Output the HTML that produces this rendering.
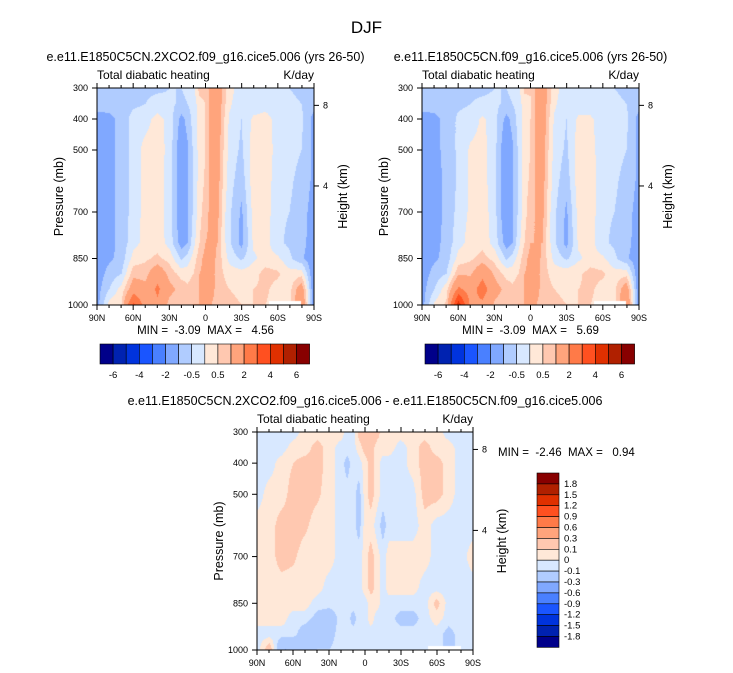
<!DOCTYPE html>
<html><head><meta charset="utf-8">
<style>
body{margin:0;background:#fff;}
#root{position:relative;width:733px;height:673px;overflow:hidden;font-family:"Liberation Sans",sans-serif;color:#000;}
.t{position:absolute;white-space:nowrap;}
canvas{position:absolute;}
svg{position:absolute;left:0;top:0;}
svg text{white-space:pre;}
</style></head>
<body>
<div id="root">
<div class="t" style="left:0;width:733px;text-align:center;top:18px;font-size:17px;">DJF</div>
<canvas id="cA" width="217" height="217" style="left:97px;top:88px"></canvas>
<canvas id="cB" width="217" height="217" style="left:422px;top:88px"></canvas>
<canvas id="cC" width="216" height="218" style="left:257px;top:432px"></canvas>
<svg id="ov" width="733" height="673"></svg>
</div>
<script>
const lats=[90,80,70,60,50,40,30,20,15,10,5,0,-5,-10,-15,-20,-30,-40,-50,-60,-70,-80,-90];
const levs=[300,350,400,500,600,700,800,850,900,950,1000];
const fieldA=[
[-0.7,-0.7,-1.3,-1.3,-1.3,-1.3,-1.3,-1.3,-1.3,-1.2,-1.2],
[-0.7,-0.7,-1.2,-1.2,-1.2,-1.2,-1.2,-1.1,-0.8,-0.5,0.2],
[-0.7,-0.7,-0.8,-0.8,-0.8,-0.8,-0.8,-0.8,-0.5,0.2,0.5],
[-0.7,-0.6,-0.3,-0.3,-0.3,-0.3,-0.2,0.2,0.8,1.5,3.2],
[-0.6,-0.5,-0.2,0.2,0.2,0.2,0.2,0.4,0.8,1.2,1.5],
[-0.6,-0.3,0.2,0.3,0.3,0.3,0.3,0.6,1.6,2.2,1.8],
[-0.5,-0.4,-0.2,-0.2,-0.3,-0.3,-0.2,0.3,0.8,1.2,0.8],
[-0.5,-0.6,-1.2,-1.5,-1.5,-1.5,-1.3,-0.6,0.3,0.8,0.6],
[-0.4,-0.5,-0.8,-1.1,-1.1,-1.1,-1.0,-0.3,0.3,0.6,0.5],
[-0.2,-0.3,-0.3,-0.4,-0.4,-0.4,-0.2,0.2,0.5,0.8,1.0],
[0.7,0.3,0.2,0.2,0.2,0.3,0.5,0.8,1.0,1.0,1.0],
[0.7,0.5,0.5,0.5,0.6,0.8,1.0,1.2,1.2,1.2,1.2],
[1.3,1.3,1.3,1.3,1.2,1.2,1.1,1.2,1.2,1.2,1.0],
[1.5,1.6,1.5,1.4,1.3,1.2,1.0,0.9,0.8,0.8,0.8],
[0.8,0.7,0.6,0.5,0.4,0.2,0.2,0.3,0.5,0.6,0.6],
[0.2,0.1,-0.1,-0.2,-0.3,-0.4,-0.4,-0.2,0.3,0.5,0.6],
[-0.3,-0.4,-0.5,-0.6,-0.8,-1.1,-1.2,-0.6,0.2,0.4,0.5],
[-0.4,-0.3,0.1,0.3,0.3,0.2,0.1,-0.1,0.3,0.5,0.5],
[-0.4,-0.2,0.2,0.3,0.3,0.3,0.2,0.2,0.7,0.6,0.5],
[-0.4,-0.3,-0.2,-0.2,-0.3,-0.4,-0.4,0.1,0.6,0.3,0.3],
[-0.5,-0.4,-0.3,-0.3,-0.4,-0.5,-0.6,-0.4,0.2,0.3,0.3],
[-0.6,-0.5,-0.4,-0.5,-0.7,-0.8,-0.8,-0.9,0.3,1.5,2.0],
[-0.7,-0.8,-1.2,-1.1,-1.1,-1.2,-1.3,-1.4,-1.5,-1.5,-1.5]];
const fieldB=[
[-0.7,-0.7,-1.3,-1.3,-1.3,-1.3,-1.3,-1.3,-1.3,-1.2,-1.2],
[-0.7,-0.7,-1.2,-1.2,-1.2,-1.2,-1.2,-1.1,-0.8,-0.5,0.1],
[-0.7,-0.7,-0.8,-0.8,-0.9,-0.9,-0.8,-0.8,-0.5,0.3,0.6],
[-0.7,-0.6,-0.4,-0.4,-0.4,-0.3,-0.2,0.2,0.9,2.2,4.5],
[-0.6,-0.5,-0.3,0.1,0.1,0.1,0.2,0.4,0.9,1.5,1.8],
[-0.6,-0.4,0.1,0.2,0.2,0.3,0.3,0.7,1.7,2.5,1.8],
[-0.5,-0.4,-0.3,-0.3,-0.3,-0.3,-0.2,0.3,0.9,1.3,0.9],
[-0.5,-0.6,-1.2,-1.6,-1.7,-1.6,-1.3,-0.6,0.3,0.8,0.6],
[-0.4,-0.5,-0.8,-1.1,-1.1,-1.1,-1.0,-0.3,0.3,0.6,0.5],
[-0.2,-0.3,-0.3,-0.4,-0.4,-0.4,-0.2,0.2,0.5,0.8,1.0],
[0.6,0.3,0.2,0.3,0.3,0.3,0.5,0.8,1.0,1.0,1.0],
[0.6,0.4,0.5,0.5,0.6,0.8,1.0,1.2,1.2,1.2,1.2],
[1.1,1.2,1.2,1.2,1.2,1.1,1.0,1.2,1.2,1.2,1.0],
[1.4,1.6,1.5,1.4,1.3,1.2,1.0,0.9,0.8,0.8,0.8],
[0.8,0.7,0.6,0.5,0.4,0.2,0.2,0.3,0.5,0.6,0.6],
[0.2,0.1,-0.1,-0.2,-0.3,-0.4,-0.4,-0.2,0.3,0.5,0.6],
[-0.3,-0.4,-0.5,-0.6,-0.8,-1.1,-1.2,-0.6,0.3,0.4,0.5],
[-0.4,-0.3,0.1,0.3,0.3,0.2,0.1,-0.1,0.4,0.5,0.5],
[-0.4,-0.3,0.1,0.2,0.3,0.3,0.2,0.2,0.7,0.6,0.5],
[-0.4,-0.3,-0.3,-0.3,-0.3,-0.4,-0.4,0.1,0.6,0.3,0.3],
[-0.5,-0.4,-0.3,-0.3,-0.4,-0.5,-0.6,-0.4,0.2,0.4,0.3],
[-0.6,-0.5,-0.4,-0.5,-0.7,-0.8,-0.8,-0.9,0.3,1.5,2.0],
[-0.7,-0.8,-1.2,-1.1,-1.1,-1.2,-1.3,-1.4,-1.5,-1.5,-1.5]];
const fieldC=[
[-0.05,-0.05,-0.05,-0.05,0.05,0.05,0.05,0.05,0.05,-0.05,-0.05],
[-0.05,-0.05,-0.05,0.05,0.05,0.05,0.05,0.05,0.05,-0.05,0.2],
[-0.05,-0.05,0.05,0.05,0.15,0.15,0.05,0.05,0.05,-0.05,-0.3],
[-0.05,0.05,0.1,0.15,0.15,0.12,0.05,0.05,-0.05,-0.05,-0.3],
[0.05,0.05,0.15,0.15,0.12,0.05,0.05,0.05,-0.05,-0.2,-0.15],
[0.05,0.15,0.15,0.12,0.05,0.05,0.05,-0.05,-0.15,-0.2,-0.1],
[0.05,0.05,0.05,0.05,0.05,0.05,-0.05,-0.05,-0.2,-0.15,-0.1],
[0.05,-0.05,-0.05,-0.05,-0.05,-0.05,-0.05,-0.05,-0.05,-0.05,-0.05],
[-0.05,-0.05,-0.15,-0.05,-0.05,-0.05,-0.05,-0.05,-0.05,-0.05,-0.05],
[-0.05,-0.05,-0.05,-0.05,-0.05,-0.05,-0.05,-0.05,-0.15,-0.05,-0.05],
[0.15,0.05,-0.05,-0.15,-0.15,-0.05,-0.05,-0.05,-0.05,-0.05,-0.05],
[0.15,0.15,0.05,0.05,0.05,0.05,0.05,-0.05,-0.05,-0.05,-0.05],
[0.3,0.15,0.15,0.15,0.05,0.15,0.15,0.05,0.05,-0.05,-0.05],
[0.15,0.05,0.05,0.05,-0.05,0.05,0.05,0.05,-0.05,-0.05,-0.05],
[0.05,0.05,-0.05,-0.05,-0.15,-0.05,-0.05,-0.05,-0.05,-0.05,-0.05],
[0.05,0.05,-0.05,-0.05,-0.05,0.05,0.05,-0.05,-0.05,-0.05,-0.05],
[0.05,-0.05,-0.05,-0.05,-0.05,0.05,0.05,-0.05,-0.15,-0.05,-0.05],
[0.05,0.05,0.05,-0.05,-0.05,0.05,0.05,-0.05,-0.15,-0.05,-0.05],
[0.05,0.15,0.15,0.15,0.05,0.05,-0.05,-0.05,-0.05,-0.05,-0.05],
[0.05,0.05,0.15,0.15,-0.05,-0.05,-0.05,0.15,0.05,-0.05,-0.05],
[-0.05,0.05,0.05,0.05,-0.05,-0.05,-0.05,-0.05,-0.05,-0.15,-0.15],
[-0.05,-0.05,-0.05,-0.05,-0.05,-0.05,-0.05,-0.05,-0.05,-0.05,-0.05],
[-0.05,-0.05,-0.05,-0.05,-0.05,0.05,-0.05,-0.05,-0.05,-0.05,-0.05]];
const colors=["#00008a","#0022b0","#0033dd","#1a55ff","#4a80ff","#80a8ff","#b0ccff","#d8e8ff","#ffe8d8","#ffc8b0","#ffa47c","#ff7a48","#ff5020","#e03000","#b02000","#880000"];
const levelsTop=[-6,-5,-4,-3,-2,-1,-0.5,0,0.5,1,2,3,4,5,6];
const levelsDiff=[-1.8,-1.5,-1.2,-0.9,-0.6,-0.3,-0.1,0,0.1,0.3,0.6,0.9,1.2,1.5,1.8];
const topTickLabels=["-6","-4","-2","-0.5","0.5","2","4","6"];
const topTickIdx=[0,2,4,6,8,10,12,14];
const latTicks=[90,60,30,0,-30,-60,-90];
const latTickLabels=["90N","60N","30N","0","30S","60S","90S"];
const presTicks=[300,400,500,700,850,1000];
const heightTicks=[[8,356],[4,616]];

function sample(field,lat,p){
  let i=0;while(i<lats.length-2&&lat<lats[i+1])i++;
  let fi=(lats[i]-lat)/(lats[i]-lats[i+1]);fi=Math.max(0,Math.min(1,fi));
  let j=0;while(j<levs.length-2&&p>levs[j+1])j++;
  let fj=(p-levs[j])/(levs[j+1]-levs[j]);fj=Math.max(0,Math.min(1,fj));
  const a=field[i][j],b=field[i+1][j],c=field[i][j+1],d=field[i+1][j+1];
  return a*(1-fi)*(1-fj)+b*fi*(1-fj)+c*(1-fi)*fj+d*fi*fj;
}
function hex(h){return [parseInt(h.slice(1,3),16),parseInt(h.slice(3,5),16),parseInt(h.slice(5,7),16)];}
const rgb=colors.map(hex);
function draw(id,field,levels){
  const cv=document.getElementById(id),ctx=cv.getContext('2d');
  const W=cv.width,H=cv.height,img=ctx.createImageData(W,H);
  for(let y=0;y<H;y++)for(let x=0;x<W;x++){
    const lat=90-180*x/(W-1),p=300+700*y/(H-1);
    let o=(y*W+x)*4;
    if(p>988&&lat<-53&&lat>-80){img.data[o]=img.data[o+1]=img.data[o+2]=img.data[o+3]=255;continue;}
    const v=sample(field,lat,p);
    let k=0;while(k<levels.length&&v>=levels[k])k++;
    const c=rgb[k];img.data[o]=c[0];img.data[o+1]=c[1];img.data[o+2]=c[2];img.data[o+3]=255;
  }
  ctx.putImageData(img,0,0);
}
draw('cA',fieldA,levelsTop);draw('cB',fieldB,levelsTop);draw('cC',fieldC,levelsDiff);

const svg=document.getElementById('ov');const NS="http://www.w3.org/2000/svg";
function el(tag,attrs,parent){const e=document.createElementNS(NS,tag);for(const k in attrs)e.setAttribute(k,attrs[k]);(parent||svg).appendChild(e);return e;}
function txt(x,y,s,size,anchor,name,rot){const e=el('text',{x:x,y:y,'font-size':size,'text-anchor':anchor||'start','font-family':'Liberation Sans, sans-serif'});


if(rot)e.setAttribute('transform','rotate(-90 '+x+' '+y+')');e.textContent=s;return e;}

function axes(x0,y0,w,h,title,mm,prefix){
  const g=el('g',{});
  
  
  el('rect',{x:x0,y:y0,width:w,height:h,fill:'none',stroke:'#000','stroke-width':1},g);
  const X=lat=>x0+(90-lat)/180*w, Y=p=>y0+(p-300)/700*h;
  latTicks.forEach((l,i)=>{el('line',{x1:X(l),x2:X(l),y1:y0+h,y2:y0+h+5,stroke:'#000'},g);el('line',{x1:X(l),x2:X(l),y1:y0,y2:y0-5,stroke:'#000'},g);
    txt(X(l),y0+h+16,latTickLabels[i],9,'middle',prefix+'-lat-tick-label');});
  for(let l=80;l>=-80;l-=10){if(l%30){el('line',{x1:X(l),x2:X(l),y1:y0+h,y2:y0+h+3,stroke:'#000'},g);el('line',{x1:X(l),x2:X(l),y1:y0,y2:y0-3,stroke:'#000'},g);}}
  presTicks.forEach(p=>{el('line',{x1:x0-5,x2:x0,y1:Y(p),y2:Y(p),stroke:'#000'},g);txt(x0-9,Y(p)+3,String(p),9,'end',prefix+'-pressure-tick-label');});
  heightTicks.forEach(t=>{el('line',{x1:x0+w,x2:x0+w+5,y1:Y(t[1]),y2:Y(t[1]),stroke:'#000'},g);txt(x0+w+9,Y(t[1])+3,String(t[0]),9,'start',prefix+'-height-tick-label');});
  txt(x0-34,y0+h/2,'Pressure (mb)',12.5,'middle',prefix+'-y-axis-title',true);
  txt(x0+w+33,y0+h/2,'Height (km)',12.5,'middle',prefix+'-right-axis-title',true);
  txt(x0,y0-9,'Total diabatic heating',12,'start',prefix+'-subtitle');
  txt(x0+w,y0-9,'K/day',12,'end',prefix+'-units');
  txt(x0+w/2,y0-27,title,12.5,'middle',prefix+'-title');
  if(mm)txt(x0+w/2,y0+h+29,mm,11.5,'middle',prefix+'-min-max');
}
axes(97,88,217,217,'e.e11.E1850C5CN.2XCO2.f09_g16.cice5.006 (yrs 26-50)','MIN =  -3.09  MAX =   4.56','left');
axes(422,88,217,217,'e.e11.E1850C5CN.f09_g16.cice5.006 (yrs 26-50)','MIN =  -3.09  MAX =   5.69','right');
axes(257,432,216,218,'e.e11.E1850C5CN.2XCO2.f09_g16.cice5.006 - e.e11.E1850C5CN.f09_g16.cice5.006',null,'diff');
txt(498,456,'MIN =  -2.46  MAX =   0.94',11.5,'start','diff-min-max');

function hbar(x0,prefix){
  const bw=13.1,y0=344,h=20;
  colors.forEach((c,i)=>{const r=el('rect',{x:x0+i*bw,y:y0,width:bw,height:h,fill:c,stroke:'#000','stroke-width':0.6});
    
    });
  topTickIdx.forEach((k,i)=>txt(x0+(k+1)*bw,y0+h+14,topTickLabels[i],9.5,'middle',prefix+'-colorbar-label'));
}
hbar(100,'left');hbar(425,'right');
(function(){
  const x0=537,y0=473,bh=10.9,w=22;
  for(let i=0;i<16;i++){const r=el('rect',{x:x0,y:y0+i*bh,width:w,height:bh,fill:colors[15-i],stroke:'#000','stroke-width':0.6});
    
    }
  for(let i=0;i<15;i++){const v=levelsDiff[14-i];txt(x0+w+5,y0+(i+1)*bh+3,String(v),9.5,'start','diff-colorbar-label');}
})();
</script>
</body></html>
